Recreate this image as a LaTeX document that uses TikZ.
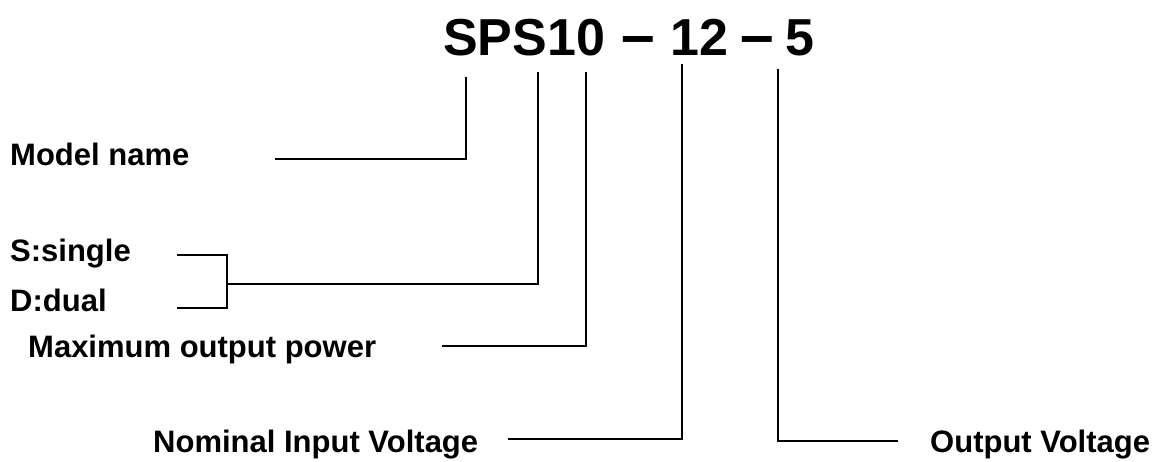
\documentclass[tikz,border=0pt]{standalone}
\usepackage{fontspec}
\usepackage{graphicx}
\setmainfont{Liberation Sans}
\newcommand{\wdash}{\scalebox{1.16}[1.15]{–}}
\begin{document}
\begin{tikzpicture}[x=1pt,y=-1pt,
  lbl/.style={font=\bfseries\fontsize{31}{36}\selectfont,inner sep=0pt,anchor=base west},
  ttl/.style={font=\bfseries\fontsize{52}{60}\selectfont,inner sep=0pt,anchor=base west},
  conn/.style={line width=1.5pt,black}]
\useasboundingbox (0,0) rectangle (1160,462);
\node[ttl] (title) at (443,56) {SPS10\hspace{16pt}\wdash\hspace{16pt}12\hspace{12pt}\wdash\hspace{11pt}5};
\node[lbl] (model) at (10,166) {Model name};
\node[lbl] (single) at (10,262) {S:single};
\node[lbl] (dual) at (10,312) {D:dual};
\node[lbl] (maxp) at (28,358) {Maximum output power};
\node[lbl] (nom) at (153,452) {Nominal Input Voltage};
\node[lbl] (outv) at (930,452) {Output Voltage};
\coordinate (tS) at (466,77);
\coordinate (tS2) at (538,72);
\coordinate (t0) at (586,72);
\coordinate (t12) at (682,64);
\coordinate (t5) at (778,69);
\coordinate (br) at (227,284);
\draw[conn] (275,159) -- (tS |- 0,159) -- (tS);
\draw[conn] (177,255) -- (227,255) -- (227,308) -- (177,308);
\draw[conn] (br) -- (tS2 |- br) -- (tS2);
\draw[conn] (442,346) -- (t0 |- 0,346) -- (t0);
\draw[conn] (508,439) -- (t12 |- 0,439) -- (t12);
\draw[conn] (898,441) -- (t5 |- 0,441) -- (t5);
\end{tikzpicture}
\end{document}
